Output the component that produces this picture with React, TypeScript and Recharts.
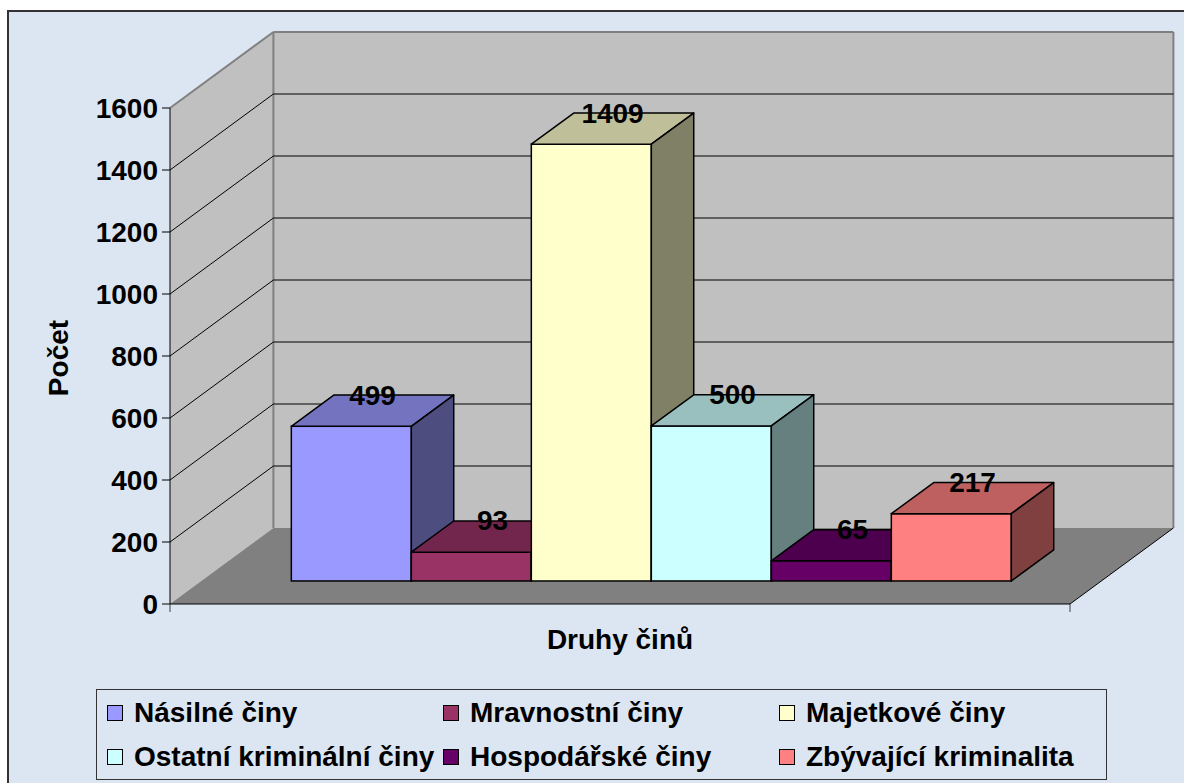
import React from 'react';
import { BarChart, Bar, XAxis, YAxis, CartesianGrid, Legend, LabelList } from 'recharts';

// ---------- data ----------
const CATEGORIES = ['Druhy činů'];
const SERIES_KEYS = ['nasilne', 'mravnostni', 'majetkove', 'ostatni', 'hospodarske', 'zbyvajici'];
const SERIES_NAMES = [
  'Násilné činy',
  'Mravnostní činy',
  'Majetkové činy',
  'Ostatní kriminální činy',
  'Hospodářské činy',
  'Zbývající kriminalita',
];
const SERIES_VALUES = [499, 93, 1409, 500, 65, 217];
const FRONT_COLORS = ['#9999FF', '#993366', '#FFFFCC', '#CCFFFF', '#660066', '#FF8080'];
const TOP_COLORS = ['#7373BF', '#73264D', '#BFBF99', '#99BFBF', '#4D004D', '#BF6060'];
const SIDE_COLORS = ['#4D4D80', '#4D1A33', '#808066', '#668080', '#330033', '#804040'];
const Y_TICKS = [0, 200, 400, 600, 800, 1000, 1200, 1400, 1600];
const Y_TITLE = 'Počet';
const X_TITLE = 'Druhy činů';

const data = CATEGORIES.map((c) => {
  const row: any = { category: c };
  SERIES_KEYS.forEach((k, i) => {
    row[k] = SERIES_VALUES[i];
  });
  return row;
});

// ---------- layout ----------
const CHART_W = 1176;
const CHART_H = 773;
const MARGIN = { top: 98, right: 114, bottom: 129, left: 0 };
const Y_AXIS_W = 162;
const X_AXIS_H = 50;
const PLOT_T = MARGIN.top;
const PLOT_B = CHART_H - MARGIN.bottom - X_AXIS_H;
const DX = 103.4;
const DY = 76;
const BAR_FRONT = 0.303;
const BAR_DEPTH = 0.41;
const FONT = '"Liberation Sans", Arial, Helvetica, sans-serif';
const FS = 28;
const WALL = '#C0C0C0';
const FLOOR = '#808080';
const EDGE = '#808080';

const renderWallLine = (props: any) => {
  const { x1, x2, y1, index } = props;
  const L = x1;
  const R = x2;
  const T = PLOT_T;
  const B = PLOT_B;
  const y = y1;
  const parts: any[] = [];
  if (index === 0) {
    parts.push(
      <polygon key="side" points={`${L},${T} ${L + DX},${T - DY} ${L + DX},${B - DY} ${L},${B}`} fill={WALL} />,
      <rect key="back" x={L + DX} y={T - DY} width={R - L} height={B - T} fill={WALL} />,
      <polygon key="floor" points={`${L},${B} ${R},${B} ${R + DX},${B - DY} ${L + DX},${B - DY}`} fill={FLOOR} />,
      <line key="e1" x1={L} y1={T} x2={L + DX} y2={T - DY} stroke={EDGE} strokeWidth={2} />,
      <line key="e2" x1={L + DX} y1={T - DY} x2={R + DX} y2={T - DY} stroke={EDGE} strokeWidth={2} />,
      <line key="e3" x1={R + DX} y1={T - DY} x2={R + DX} y2={B - DY} stroke={EDGE} strokeWidth={2} />,
      <line key="e4" x1={L + DX} y1={T - DY} x2={L + DX} y2={B - DY} stroke={EDGE} strokeWidth={2} />,
      <line key="e5" x1={R} y1={B} x2={R + DX} y2={B - DY} stroke="#000" strokeWidth={1} />,
      <line key="t1" x1={L} y1={B} x2={L} y2={B + 8} stroke="#404040" strokeWidth={1} />,
      <line key="t2" x1={R} y1={B} x2={R} y2={B + 8} stroke="#404040" strokeWidth={1} />
    );
  }
  if (Math.abs(y - T) > 1 && Math.abs(y - B) > 1) {
    parts.push(
      <line key="gb" x1={L + DX} y1={y - DY} x2={R + DX} y2={y - DY} stroke="#000" strokeWidth={1} />,
      <line key="gs" x1={L} y1={y} x2={L + DX} y2={y - DY} stroke="#000" strokeWidth={1} />
    );
  }
  return <g key={`wall-${index}`}>{parts}</g>;
};

const makeShape = (i: number) => (props: any) => {
  const { x, y, width, height } = props;
  if (height == null || width == null) return <g />;
  const fx = x + DX * BAR_FRONT;
  const fy = y - DY * BAR_FRONT;
  const bx = DX * BAR_DEPTH;
  const by = DY * BAR_DEPTH;
  const sw = 1.5;
  return (
    <g>
      <rect x={fx} y={fy} width={width} height={height} fill={FRONT_COLORS[i]} stroke="#000" strokeWidth={sw} />
      <polygon
        points={`${fx},${fy} ${fx + bx},${fy - by} ${fx + width + bx},${fy - by} ${fx + width},${fy}`}
        fill={TOP_COLORS[i]}
        stroke="#000"
        strokeWidth={sw}
        strokeLinejoin="round"
      />
      <polygon
        points={`${fx + width},${fy} ${fx + width + bx},${fy - by} ${fx + width + bx},${fy + height - by} ${fx + width},${fy + height}`}
        fill={SIDE_COLORS[i]}
        stroke="#000"
        strokeWidth={sw}
        strokeLinejoin="round"
      />
    </g>
  );
};

const renderLabel = (props: any) => {
  const vb = props.viewBox || {};
  const x = props.x ?? vb.x;
  const y = props.y ?? vb.y;
  const width = props.width ?? vb.width;
  const cx = x + DX * BAR_FRONT + width / 2 + (DX * BAR_DEPTH) / 2;
  const cy = y - DY * BAR_FRONT - DY * BAR_DEPTH;
  return (
    <text x={cx} y={cy} textAnchor="middle" dominantBaseline="central" fontSize={FS} fontWeight="bold" fill="#000" fontFamily={FONT}>
      {props.value}
    </text>
  );
};

const renderYTitle = (props: any) => {
  const vb = props.viewBox || { x: 0, y: PLOT_T, width: Y_AXIS_W, height: PLOT_B - PLOT_T };
  const x = vb.x + 60;
  const y = vb.y + vb.height / 2 + 2;
  return (
    <text x={x} y={y} transform={`rotate(-90 ${x} ${y})`} textAnchor="middle" fontSize={FS} fontWeight="bold" fill="#000" fontFamily={FONT}>
      {Y_TITLE}
    </text>
  );
};

const renderXTitle = (props: any) => {
  const vb = props.viewBox || { x: Y_AXIS_W, y: PLOT_B, width: 900, height: X_AXIS_H };
  return (
    <text x={vb.x + vb.width / 2} y={vb.y + 44.5} textAnchor="middle" fontSize={FS} fontWeight="bold" fill="#000" fontFamily={FONT}>
      {X_TITLE}
    </text>
  );
};

const renderLegend = (props: any) => {
  const payload = (props.payload || []).slice();
  payload.sort((a: any, b: any) => SERIES_NAMES.indexOf(a.value) - SERIES_NAMES.indexOf(b.value));
  return (
    <div
      style={{
        position: 'relative',
        width: 1011,
        height: 91,
        boxSizing: 'border-box',
        border: '1px solid #333',
        fontFamily: FONT,
        fontSize: FS,
        fontWeight: 'bold',
        color: '#000',
      }}
    >
      {payload.map((entry: any, i: number) => {
        const col = i % 3;
        const row = Math.floor(i / 3);
        const cy = row === 0 ? 23 : 67;
        return (
          <div
            key={entry.value}
            style={{
              position: 'absolute',
              left: 10 + col * 336,
              top: cy - 16,
              height: 32,
              display: 'flex',
              alignItems: 'center',
              whiteSpace: 'nowrap',
              lineHeight: '32px',
            }}
          >
            <span
              style={{
                display: 'inline-block',
                width: 16,
                height: 16,
                boxSizing: 'border-box',
                border: '1.5px solid #000',
                background: entry.color,
                marginRight: 11,
              }}
            />
            <span>{entry.value}</span>
          </div>
        );
      })}
    </div>
  );
};

export default function App() {
  return (
    <>
      <style>{'html,body{margin:0;padding:0;overflow:hidden;background:#fff;}'}</style>
      <div
        style={{
          position: 'absolute',
          left: 7,
          top: 10,
          width: 1177,
          height: 773,
          boxSizing: 'border-box',
          borderLeft: '2px solid #333',
          borderTop: '2px solid #333',
          background: '#DCE6F2',
        }}
      />
      <div style={{ position: 'absolute', left: 8, top: 10, width: CHART_W, height: CHART_H }}>
        <BarChart
          width={CHART_W}
          height={CHART_H}
          data={data}
          margin={MARGIN}
          barGap={0}
          barCategoryGap="10%"
          style={{ fontFamily: FONT }}
        >
          <CartesianGrid horizontal={renderWallLine} vertical={false} />
          <XAxis
            dataKey="category"
            tick={false}
            tickLine={false}
            axisLine={{ stroke: '#000', strokeWidth: 1 }}
            height={X_AXIS_H}
            label={renderXTitle}
          />
          <YAxis
            type="number"
            domain={[0, 1600]}
            ticks={Y_TICKS}
            interval={0}
            width={Y_AXIS_W}
            tickSize={8}
            tickMargin={4}
            axisLine={{ stroke: '#000', strokeWidth: 1 }}
            tickLine={{ stroke: '#000', strokeWidth: 1 }}
            tick={{ fill: '#000', fontSize: FS, fontWeight: 'bold', fontFamily: FONT }}
            label={renderYTitle}
          />
          <Legend
            content={renderLegend}
            layout="horizontal"
            verticalAlign="middle"
            align="center"
            width={1011}
            height={91}
            wrapperStyle={{ left: 88, top: 679, width: 1011, height: 91 }}
          />
          {SERIES_KEYS.map((k, i) => (
            <Bar
              key={k}
              dataKey={k}
              name={SERIES_NAMES[i]}
              fill={FRONT_COLORS[i]}
              isAnimationActive={false}
              shape={makeShape(i)}
            >
              <LabelList dataKey={k} content={renderLabel} />
            </Bar>
          ))}
        </BarChart>
      </div>
    </>
  );
}
